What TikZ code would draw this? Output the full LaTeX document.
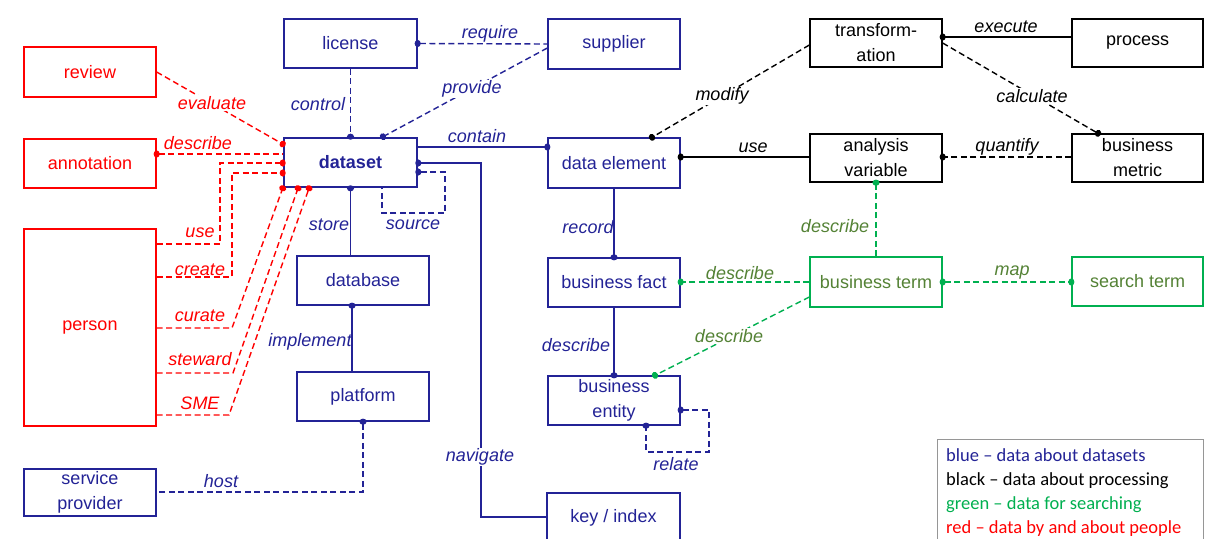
\documentclass[tikz,border=0pt]{standalone}
\usepackage{fontspec}
\setmainfont{Liberation Sans}
\newfontfamily\legendfont{Carlito}
\usetikzlibrary{arrows.meta}
\definecolor{dsblue}{RGB}{35,35,150}
\definecolor{pgreen}{RGB}{0,176,80}
\definecolor{tgreen}{RGB}{84,130,53}
\definecolor{pred}{RGB}{255,0,0}
\definecolor{legendgray}{RGB}{150,150,150}
\tikzset{
  box/.style={draw, line width=1.3pt, minimum width=132pt, minimum height=49pt,
    inner sep=0pt, align=center, font=\fontsize{18}{25}\selectfont},
  bluebox/.style={box, draw=dsblue, text=dsblue},
  redbox/.style={box, draw=pred, text=pred},
  blackbox/.style={box, draw=black, text=black},
  greenbox/.style={box, draw=pgreen, text=tgreen},
  link/.style={line width=1.4pt},
  dashlink/.style={link, dash pattern=on 6pt off 3.5pt},
  lbl/.style={font=\fontsize{18}{21}\selectfont\itshape, inner sep=1pt},
  gap/.style={lbl, fill=white},
  enddot/.style={-{Circle[length=6pt,width=7pt]}, shorten >=-3pt},
  startdot/.style={{Circle[length=6pt,width=7pt]}-, shorten <=-3pt},
  bothdots/.style={{Circle[length=6pt,width=7pt]}-{Circle[length=6pt,width=7pt]},
    shorten <=-3pt, shorten >=-3pt},
}
\begin{document}
\begin{tikzpicture}[x=1pt,y=-1pt]
\useasboundingbox (0,0) rectangle (1209,538);
\fill[white] (0,0) rectangle (1209,538);

% people
\node[redbox, minimum height=50pt] (review) at (90,72) {review};
\node[redbox] (annotation) at (90,163.5) {annotation};
\node[redbox, minimum height=197pt] (person) at (90,327.5) {person};

% datasets
\node[bluebox, minimum height=47pt] (provider) at (90,492.5) {service\\provider};
\node[bluebox, minimum width=133pt] (license) at (350.5,43.5) {license};
\node[bluebox, minimum width=133pt, line width=2.6pt] (dataset) at (350.5,162.5) {\textbf{dataset}};
\node[bluebox] (database) at (363,280.5) {database};
\node[bluebox] (platform) at (363,396.5) {platform};
\node[bluebox, minimum height=50pt] (supplier) at (614,44) {supplier};
\node[bluebox, minimum height=50pt] (element) at (614,163) {data element};
\node[bluebox] (fact) at (614,282.5) {business fact};
\node[bluebox] (entity) at (614,400.5) {business\\entity};
\node[bluebox, minimum width=133pt] (key) at (613.5,517.5) {key / index};

% processing
\node[blackbox, minimum height=48pt] (transform) at (876,43) {transform-\\ation};
\node[blackbox, minimum width=131pt, minimum height=48pt] (process) at (1137.5,43) {process};
\node[blackbox, minimum height=48pt] (variable) at (876,158) {analysis\\variable};
\node[blackbox, minimum width=131pt, minimum height=48pt] (metric) at (1137.5,158) {business\\metric};

% searching
\node[greenbox, minimum height=50pt] (term) at (876,282) {business term};
\node[greenbox, minimum width=131pt] (search) at (1137.5,281.5) {search term};

% red connectors
\draw[dashlink, pred, enddot] (review.east |- 0,72) -- (dataset.west |- 0,144);
\draw[dashlink, pred, startdot] (annotation.east |- 0,154) -- (dataset.west |- 0,154);
\draw[dashlink, pred, enddot] (person.east |- 0,244) -| (220,163) -- (dataset.west |- 0,163);
\draw[dashlink, pred, enddot] (person.east |- 0,277) -| (232,173) -- (dataset.west |- 0,173);
\draw[dashlink, pred, enddot] (person.east |- 0,328) -- (232,328) -- (dataset.south west);
\draw[dashlink, pred, enddot] (person.east |- 0,373) -- (233,373) -- (dataset.south -| 298,0);
\draw[dashlink, pred, enddot] (person.east |- 0,415) -- (229,415) -- (dataset.south -| 309,0);

% blue connectors
\draw[dashlink, dsblue, enddot] (license.south) -- (dataset.north);
\draw[dashlink, dsblue, startdot] (license.east) -- (supplier.west);
\draw[dashlink, dsblue, enddot] (supplier.west |- 0,48) -- (dataset.north -| 383,0);
\draw[link, dsblue, enddot] (dataset.east |- 0,147) -- (element.west |- 0,147);
\draw[link, dsblue, startdot] (dataset.east |- 0,163) -| (481,517) -- (key.west |- 0,517);
\draw[dashlink, dsblue, startdot] (dataset.east |- 0,172) -- (445,172) -- (445,213) -- (382,213) -- (dataset.south -| 382,0);
\draw[link, dsblue, startdot] (dataset.south) -- (database.north -| dataset.south);
\draw[link, dsblue, startdot] (database.south -| 352,0) -- (platform.north -| 352,0);
\draw[dashlink, dsblue, startdot] (platform.south) -- (363,492) -- (provider.east |- 0,492);
\draw[link, dsblue, enddot] (element.south) -- (fact.north);
\draw[link, dsblue, enddot] (fact.south) -- (entity.north);
\draw[dashlink, dsblue, bothdots] (entity.east |- 0,410) -- (709,410) -- (709,452) -- (646,452) -- (entity.south -| 646,0);

% black connectors
\draw[dashlink, black, enddot] (transform.west |- 0,45) -- (element.north -| 652,0);
\draw[link, black, startdot] (element.east |- 0,157) -- (variable.west |- 0,157);
\draw[link, black, startdot] (transform.east |- 0,37) -- (process.west |- 0,37);
\draw[dashlink, black, enddot] (transform.east |- 0,43) -- (metric.north -| 1098,0);
\draw[dashlink, black, enddot] (metric.west |- 0,157) -- (variable.east |- 0,157);

% green connectors
\draw[dashlink, pgreen, enddot] (term.north) -- (variable.south);
\draw[dashlink, pgreen, enddot] (term.west |- 0,282) -- (fact.east |- 0,282);
\draw[dashlink, pgreen, enddot] (term.west |- 0,297) -- (entity.north -| 655,0);
\draw[dashlink, pgreen, bothdots] (term.east |- 0,282) -- (search.west |- 0,282);

% relationship labels
\node[gap, text=pred] (lEvaluate) at (212,103) {evaluate};
\node[lbl, text=pred] (lDescribeA) at (198,143) {describe};
\node[lbl, text=pred] (lUse) at (200,233) {use};
\node[lbl, text=pred] (lCreate) at (200,270) {create};
\node[lbl, text=pred] (lCurate) at (200,316) {curate};
\node[lbl, text=pred] (lSteward) at (200,359) {steward};
\node[lbl, text=pred] (lSME) at (200,403) {SME};

\node[lbl, text=dsblue] (lControl) at (318,104) {control};
\node[lbl, text=dsblue] (lRequire) at (490,34) {require};
\node[gap, text=dsblue] (lProvide) at (472,89) {provide};
\node[lbl, text=dsblue] (lContain) at (477,136) {contain};
\node[gap, text=dsblue] (lNavigate) at (480,457) {navigate};
\node[lbl, text=dsblue] (lSource) at (413,225) {source};
\node[lbl, text=dsblue] (lStore) at (329,225) {store};
\node[lbl, text=dsblue] (lImplement) at (310,342) {implement};
\node[lbl, text=dsblue] (lHost) at (221,481) {host};
\node[lbl, text=dsblue] (lRecord) at (588,227) {record};
\node[lbl, text=dsblue] (lDescribeB) at (576,345) {describe};
\node[lbl, text=dsblue] (lRelate) at (676,464) {relate};

\node[gap, text=black] (lModify) at (722,96) {modify};
\node[lbl, text=black] (lUseB) at (753,148) {use};
\node[lbl, text=black] (lExecute) at (1006,27) {execute};
\node[gap, text=black] (lCalculate) at (1032,96) {calculate};
\node[lbl, text=black] (lQuantify) at (1007,147) {quantify};

\node[lbl, text=tgreen] (lDescribeC) at (835,226) {describe};
\node[lbl, text=tgreen] (lDescribeD) at (740,273) {describe};
\node[gap, text=tgreen] (lDescribeE) at (729,336) {describe};
\node[lbl, text=tgreen] (lMap) at (1012,273) {map};

% colour key
\node[draw=legendgray, line width=0.8pt, anchor=north west, minimum width=266pt,
  minimum height=115pt, inner sep=0pt] (legend) at (937,439) {};
\node[anchor=north west, align=left, inner sep=0pt,
  font=\legendfont\fontsize{18.5}{24}\selectfont] (legendtext) at (946,448)
  {\textcolor{dsblue}{blue – data about datasets}\\
   black – data about processing\\
   \textcolor{pgreen}{green – data for searching}\\
   \textcolor{pred}{red – data by and about people}};
\end{tikzpicture}
\end{document}
